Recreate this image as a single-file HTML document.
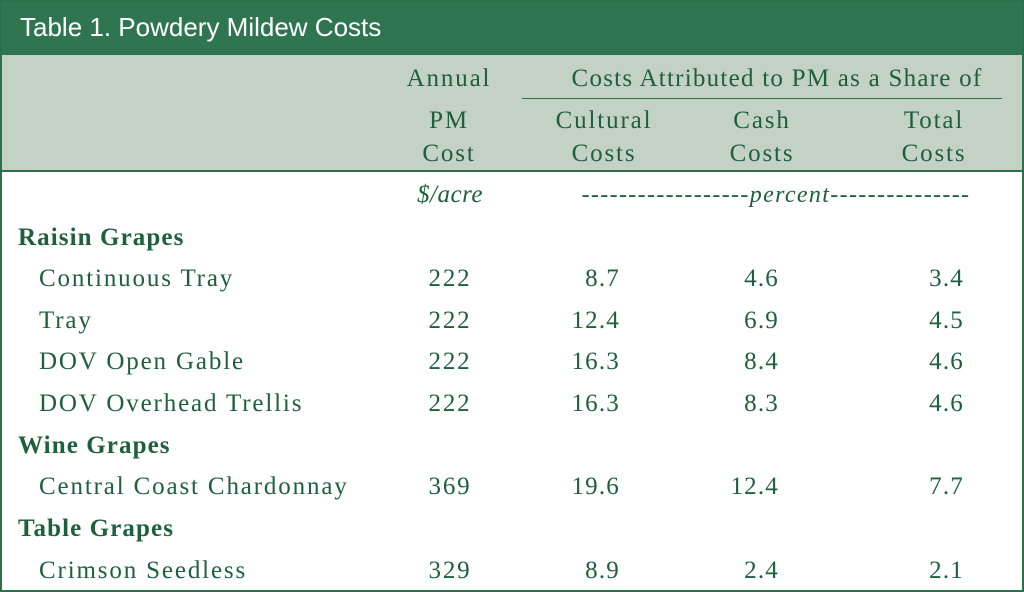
<!DOCTYPE html>
<html><head><meta charset="utf-8"><style>
body{margin:0;width:1024px;height:592px;overflow:hidden;background:#fff}
#w{position:relative;width:1020px;height:588px;border:2px solid #2b7049;overflow:hidden}
.t{position:absolute;font-family:"Liberation Serif",serif;font-size:25px;color:#1e5f3c;line-height:30px;white-space:nowrap;letter-spacing:1.85px}
.c{transform:translateX(-50%)}
.r{transform:translateX(-100%)}
.b{font-weight:bold;letter-spacing:1.1px}
.i{font-style:italic}
</style></head><body><div id="w">
<div style="position:absolute;left:0;top:0;width:1020px;height:53px;background:#2f7650"></div>
<div style="position:absolute;left:0;top:53px;width:1020px;height:116px;background:#c3d2c5"></div>
<div style="position:absolute;left:0;top:168px;width:1020px;height:2px;background:#2b7049"></div>
<div style="position:absolute;left:520px;top:96px;width:480px;height:1px;background:#2b7049"></div>
<div class="t" style="left:18px;top:10px;font-family:'Liberation Sans',sans-serif;color:#fff;font-size:26px;letter-spacing:0">Table 1. Powdery Mildew Costs</div>
<div class="t c" style="left:447px;top:62px">Annual</div>
<div class="t c" style="left:447px;top:104px">PM</div>
<div class="t c" style="left:447px;top:137px">Cost</div>
<div class="t c" style="left:775px;top:62px;letter-spacing:1.25px">Costs Attributed to PM as a Share of</div>
<div class="t c" style="left:602px;top:104px">Cultural</div>
<div class="t c" style="left:602px;top:137px">Costs</div>
<div class="t c" style="left:760px;top:104px">Cash</div>
<div class="t c" style="left:760px;top:137px">Costs</div>
<div class="t c" style="left:932px;top:104px">Total</div>
<div class="t c" style="left:932px;top:137px">Costs</div>
<div class="t c i" style="left:448px;top:178px;letter-spacing:0.5px">$/acre</div>
<div class="t c i" style="left:774px;top:178px;font-size:24px;letter-spacing:1.35px">------------------percent---------------</div>
<div class="t b" style="left:16px;top:221px">Raisin Grapes</div>
<div class="t" style="left:37px;top:262px">Continuous Tray</div>
<div class="t" style="left:37px;top:304px">Tray</div>
<div class="t" style="left:37px;top:345px">DOV Open Gable</div>
<div class="t" style="left:37px;top:387px">DOV Overhead Trellis</div>
<div class="t b" style="left:16px;top:429px">Wine Grapes</div>
<div class="t" style="left:37px;top:470px">Central Coast Chardonnay</div>
<div class="t b" style="left:16px;top:512px">Table Grapes</div>
<div class="t" style="left:37px;top:554px">Crimson Seedless</div>
<div class="t c" style="left:448px;top:262px">222</div>
<div class="t c" style="left:448px;top:304px">222</div>
<div class="t c" style="left:448px;top:345px">222</div>
<div class="t c" style="left:448px;top:387px">222</div>
<div class="t c" style="left:448px;top:470px">369</div>
<div class="t c" style="left:448px;top:554px">329</div>
<div class="t r" style="left:618px;top:262px;letter-spacing:1.2px">8.7</div>
<div class="t r" style="left:618px;top:304px;letter-spacing:1.2px">12.4</div>
<div class="t r" style="left:618px;top:345px;letter-spacing:1.2px">16.3</div>
<div class="t r" style="left:618px;top:387px;letter-spacing:1.2px">16.3</div>
<div class="t r" style="left:618px;top:470px;letter-spacing:1.2px">19.6</div>
<div class="t r" style="left:618px;top:554px;letter-spacing:1.2px">8.9</div>
<div class="t r" style="left:777px;top:262px;letter-spacing:1.2px">4.6</div>
<div class="t r" style="left:777px;top:304px;letter-spacing:1.2px">6.9</div>
<div class="t r" style="left:777px;top:345px;letter-spacing:1.2px">8.4</div>
<div class="t r" style="left:777px;top:387px;letter-spacing:1.2px">8.3</div>
<div class="t r" style="left:777px;top:470px;letter-spacing:1.2px">12.4</div>
<div class="t r" style="left:777px;top:554px;letter-spacing:1.2px">2.4</div>
<div class="t r" style="left:962px;top:262px;letter-spacing:1.2px">3.4</div>
<div class="t r" style="left:962px;top:304px;letter-spacing:1.2px">4.5</div>
<div class="t r" style="left:962px;top:345px;letter-spacing:1.2px">4.6</div>
<div class="t r" style="left:962px;top:387px;letter-spacing:1.2px">4.6</div>
<div class="t r" style="left:962px;top:470px;letter-spacing:1.2px">7.7</div>
<div class="t r" style="left:962px;top:554px;letter-spacing:1.2px">2.1</div>
</div></body></html>
